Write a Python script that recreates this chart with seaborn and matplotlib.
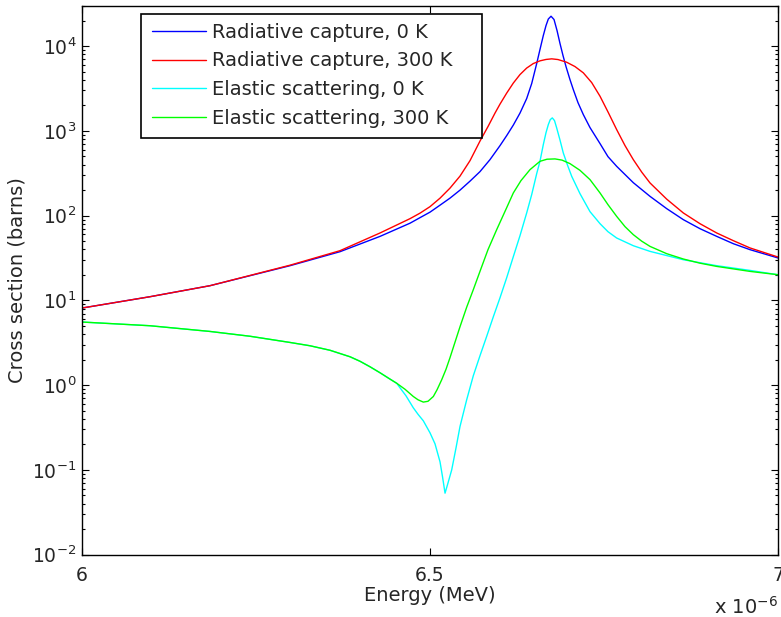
import numpy as np
import pandas as pd
import matplotlib
matplotlib.use("Agg")
import matplotlib.pyplot as plt
from matplotlib.patches import Rectangle
from matplotlib.ticker import FixedLocator, FuncFormatter, LogLocator, NullFormatter
import seaborn as sns

# U-238 resonance near 6.67 eV: energies in eV, cross sections in barns
capture_0k_e = [6.0000, 6.0977, 6.1839, 6.2989, 6.3707, 6.4282, 6.4713, 6.4856, 6.5000, 6.5144,
                6.5287, 6.5431, 6.5575, 6.5718, 6.5862, 6.6006, 6.6102, 6.6197, 6.6293, 6.6389,
                6.6461, 6.6533, 6.6580, 6.6628, 6.6667, 6.6700, 6.6739, 6.6782, 6.6825, 6.6868,
                6.6911, 6.6954, 6.7011, 6.7059, 6.7126, 6.7203, 6.7299, 6.7443, 6.7557, 6.7682,
                6.7921, 6.8161, 6.8401, 6.8640, 6.8879, 6.9119, 6.9358, 6.9598, 7.0000]
capture_0k_s = [8.13, 11.06, 14.92, 25.69, 37.58, 56.97, 81.5, 94.7, 110.0, 133.0,
                160.9, 200.0, 255.5, 330.7, 458.3, 670.6, 880.2, 1171, 1623, 2406,
                3617, 6231, 9118, 13340, 17510, 20890, 22540, 20610, 15290, 10730,
                7745, 5743, 4034, 3073, 2158, 1557, 1094, 708.1, 497, 382,
                245, 169, 121, 89.7, 70.2, 57.0, 46.7, 39.7, 31.7]

capture_300k_e = [6.0000, 6.0977, 6.1839, 6.2989, 6.3707, 6.4282, 6.4713, 6.4856, 6.5000, 6.5144,
                  6.5287, 6.5431, 6.5575, 6.5718, 6.5833, 6.5934, 6.6006, 6.6102, 6.6197, 6.6293,
                  6.6389, 6.6484, 6.6580, 6.6667, 6.6749, 6.6839, 6.6964, 6.7083, 6.7203, 6.7323,
                  6.7443, 6.7562, 6.7682, 6.7802, 6.7921, 6.8042, 6.8161, 6.8401, 6.8640, 6.8879,
                  6.9119, 6.9358, 6.9598, 7.0000]
capture_300k_s = [8.13, 11.06, 14.92, 26.04, 38.63, 62.48, 92.2, 107.0, 127.7, 160.9,
                  211.2, 292.7, 446.0, 758, 1124, 1623, 2072, 2794, 3667, 4620,
                  5513, 6231, 6706, 6966, 7082, 6948, 6455, 5743, 4840, 3718,
                  2562, 1645, 1036, 670.6, 458.3, 326.3, 243.3, 156.6, 107.6, 80.4,
                  62.5, 50.7, 41.6, 32.5]

elastic_0k_e = [6.0000, 6.0977, 6.1839, 6.2414, 6.2989, 6.3276, 6.3563, 6.3851, 6.3994, 6.4138,
                6.4282, 6.4425, 6.4522, 6.4569, 6.4655, 6.4760, 6.4828, 6.4904, 6.5000, 6.5072,
                6.5144, 6.5180, 6.5216, 6.5251, 6.5312, 6.5374, 6.5431, 6.5527, 6.5622, 6.5718,
                6.5815, 6.5910, 6.6006, 6.6102, 6.6197, 6.6293, 6.6389, 6.6461, 6.6533, 6.6580,
                6.6628, 6.6667, 6.6700, 6.6728, 6.6757, 6.6789, 6.6820, 6.6868, 6.6915, 6.6973,
                6.7036, 6.7155, 6.7299, 6.7443, 6.7557, 6.7682, 6.7921, 6.8161, 6.8640, 6.9119,
                6.9598, 7.0000]
elastic_0k_s = [5.559, 5.027, 4.305, 3.778, 3.192, 2.918, 2.582, 2.164, 1.915, 1.649,
                1.401, 1.180, 1.053, 0.9317, 0.7494, 0.5409, 0.4533, 0.3799, 0.2742, 0.2033,
                0.1246, 0.0829, 0.0532, 0.0667, 0.1003, 0.1824, 0.3254, 0.6724, 1.291, 2.224,
                3.778, 6.421, 10.76, 18.54, 32.80, 58.07, 107.6, 177.0, 313.3, 437.7,
                689.0, 954.7, 1187, 1359, 1424, 1323, 1085, 778.6, 549.9, 400.1,
                291.1, 181.8, 111.5, 80.4, 64.7, 54.5, 44.2, 37.9, 30.2, 25.7,
                22.6, 20.1]

elastic_300k_e = [6.0000, 6.0977, 6.1839, 6.2414, 6.2989, 6.3276, 6.3563, 6.3851, 6.3994, 6.4138,
                  6.4282, 6.4425, 6.4522, 6.4641, 6.4760, 6.4828, 6.4904, 6.4971, 6.5048, 6.5101,
                  6.5168, 6.5230, 6.5287, 6.5359, 6.5431, 6.5527, 6.5622, 6.5718, 6.5833, 6.5958,
                  6.6102, 6.6197, 6.6307, 6.6437, 6.6580, 6.6681, 6.6796, 6.6897, 6.7011, 6.7155,
                  6.7299, 6.7443, 6.7557, 6.7682, 6.7802, 6.7921, 6.8042, 6.8161, 6.8401, 6.8640,
                  6.8879, 6.9119, 6.9598, 7.0000]
elastic_300k_s = [5.559, 5.027, 4.305, 3.778, 3.192, 2.918, 2.582, 2.164, 1.915, 1.649,
                  1.401, 1.180, 1.053, 0.8947, 0.7355, 0.6724, 0.6316, 0.6455, 0.7355, 0.8824,
                  1.158, 1.541, 2.107, 3.210, 4.892, 8.314, 13.38, 22.0, 39.68, 68.35,
                  124.3, 185.3, 259.0, 349.2, 437.7, 463.4, 467.2, 452.2, 411.1, 342.6,
                  266.1, 185.3, 134.9, 98.1, 74.2, 59.7, 50.0, 43.4, 35.6, 30.8,
                  27.5, 25.2, 22.0, 20.1]

series_labels = ["Radiative capture, 0 K", "Radiative capture, 300 K",
                 "Elastic scattering, 0 K", "Elastic scattering, 300 K"]
series_colors = ["#0000ff", "#ff0000", "#00ffff", "#00ff00"]

frames = []
for label, e, s in zip(series_labels,
                       [capture_0k_e, capture_300k_e, elastic_0k_e, elastic_300k_e],
                       [capture_0k_s, capture_300k_s, elastic_0k_s, elastic_300k_s]):
    frames.append(pd.DataFrame({"energy": np.array(e) * 1e-6,
                                "sigma": s, "series": label}))
data = pd.concat(frames, ignore_index=True)

sns.set_theme(style="ticks")
plt.rcParams["font.family"] = ["DejaVu Sans"]
text_color = "#262626"

fig = plt.figure(figsize=(7.81, 6.17), dpi=100)
ax = fig.add_axes([82 / 781, 1 - 554.7 / 617, 696 / 781, 549 / 617])

for label, color in zip(series_labels, series_colors):
    sub = data[data["series"] == label]
    sns.lineplot(data=sub, x="energy", y="sigma", ax=ax, color=color,
                 linewidth=1.0, estimator=None, sort=False, label=label)

ax.set_yscale("log")
ax.set_xlim(6e-6, 7e-6)
ax.set_ylim(1e-2, 3e4)

ax.xaxis.set_major_locator(FixedLocator([6e-6, 6.5e-6, 7e-6]))
ax.xaxis.set_major_formatter(FuncFormatter(lambda v, p: f"{v * 1e6:g}"))
ax.yaxis.set_major_locator(LogLocator(base=10, numticks=20))
ax.yaxis.set_minor_locator(LogLocator(base=10, subs=np.arange(2, 10), numticks=20))
ax.yaxis.set_minor_formatter(NullFormatter())

for side in ["top", "right", "bottom", "left"]:
    ax.spines[side].set_visible(True)
    ax.spines[side].set_color("black")
    ax.spines[side].set_linewidth(1.0)

ax.tick_params(axis="both", which="both", direction="in", top=True, right=True,
               colors="black", labelcolor=text_color, labelsize=13.5)
ax.tick_params(axis="both", which="major", length=5, width=0.8)
ax.tick_params(axis="both", which="minor", length=2.5, width=0.8)
ax.tick_params(axis="x", which="both", pad=8)
ax.tick_params(axis="y", which="both", pad=4)

ax.set_xlabel("Energy (MeV)", fontsize=14, color=text_color, labelpad=1)
ax.set_ylabel("Cross section (barns)", fontsize=14, color=text_color, labelpad=4)
ax.text(1.0, -0.095, r"x $10^{-6}$", transform=ax.transAxes, ha="right", va="center",
        fontsize=14, color=text_color)

# legend box, drawn wider than its entries
ax.add_patch(Rectangle((59 / 696, 416.7 / 549), 341 / 696, 124 / 549,
                       transform=ax.transAxes, facecolor="white", edgecolor="black",
                       linewidth=1.2, zorder=4))
leg = ax.legend(loc="upper left", bbox_to_anchor=(61 / 696, 540.7 / 549), borderaxespad=0,
                fontsize=14, frameon=False, handlelength=2.8,
                handletextpad=0.3, labelspacing=0.5, borderpad=0.45)
leg.set_zorder(5)
for t in leg.get_texts():
    t.set_color(text_color)

fig.savefig("out.png", dpi=100, facecolor="white")
